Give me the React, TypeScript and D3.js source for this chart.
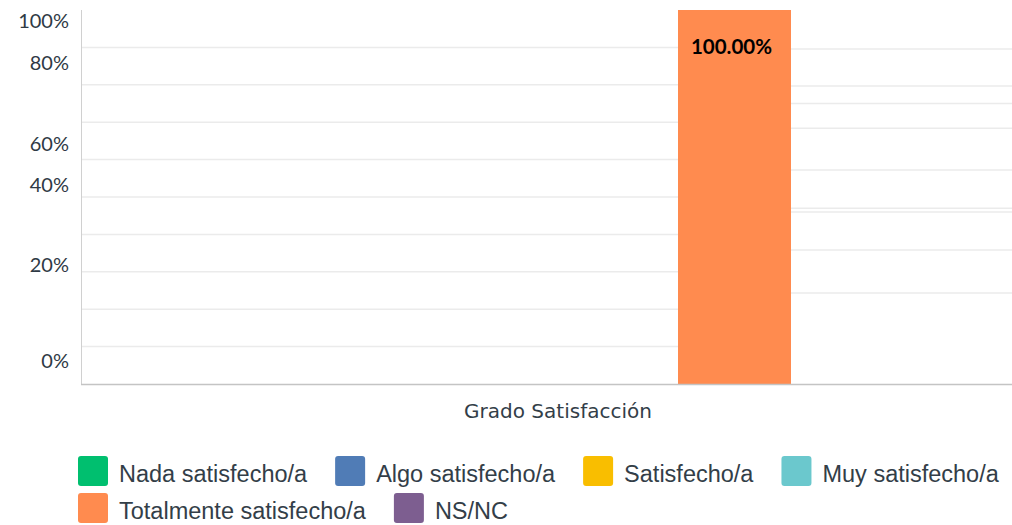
import React, { useEffect, useRef } from "react";
import * as d3 from "d3";

const categories = ["Grado Satisfacción"];
const seriesNames = [
  "Nada satisfecho/a",
  "Algo satisfecho/a",
  "Satisfecho/a",
  "Muy satisfecho/a",
  "Totalmente satisfecho/a",
  "NS/NC",
];
const seriesValues = [0, 0, 0, 0, 100, 0];
const seriesColors = ["#00BF6F", "#507CB6", "#F9BE00", "#6BC8CD", "#FF8B4F", "#7D5E90"];
const yTickLabels = ["0%", "20%", "40%", "60%", "80%", "100%"];
// where each tick label sits on the value axis (as rendered in the original)
const yTickLabelAt = [4.3, 29.9, 51.3, 62.3, 84, 95.2];
const leftGridValues = [10, 20, 30, 40, 50, 60, 70, 80, 90];
const rightGridValues = [89.6, 79.7, 75, 68.4, 57.2, 47, 46, 35.8, 24.3];

const W = 1012;
const H = 525;
const plot = { left: 81, right: 1012, top: 10, bottom: 384 };
const groupRange: [number, number] = [226, 904];

export default function App() {
  const ref = useRef<SVGSVGElement>(null);

  useEffect(() => {
    const svg = d3.select(ref.current!);
    svg.selectAll("*").remove();

    const y = d3.scaleLinear().domain([0, 100]).range([plot.bottom, plot.top]);
    const x1 = d3.scaleBand<string>().domain(seriesNames).range(groupRange).padding(0);

    const barIdx = seriesValues.findIndex((v) => v > 0);
    const barX0 = x1(seriesNames[barIdx])!;
    const barX1 = barX0 + x1.bandwidth();

    // grid
    const g = svg.append("g");
    g.selectAll("line.lg")
      .data(leftGridValues)
      .join("line")
      .attr("x1", plot.left + 1)
      .attr("x2", barX0)
      .attr("y1", (d) => y(d))
      .attr("y2", (d) => y(d))
      .attr("stroke", "#ebebeb")
      .attr("stroke-width", 1.5);
    g.selectAll("line.rg")
      .data(rightGridValues)
      .join("line")
      .attr("x1", barX1)
      .attr("x2", plot.right)
      .attr("y1", (d) => y(d))
      .attr("y2", (d) => y(d))
      .attr("stroke", "#ebebeb")
      .attr("stroke-width", 1.5);

    // bars
    svg
      .append("g")
      .selectAll("rect")
      .data(seriesNames.map((s, i) => ({ s, v: seriesValues[i], c: seriesColors[i] })))
      .join("rect")
      .attr("x", (d) => x1(d.s)!)
      .attr("width", x1.bandwidth())
      .attr("y", (d) => y(d.v))
      .attr("height", (d) => y(0) - y(d.v))
      .attr("fill", (d) => d.c);

    // bar labels
    svg
      .append("g")
      .selectAll("text")
      .data(seriesNames.map((s, i) => ({ s, v: seriesValues[i] })).filter((d) => d.v > 0))
      .join("text")
      .attr("x", (d) => x1(d.s)! + x1.bandwidth() / 2 - 3)
      .attr("y", (d) => y(d.v) + 44)
      .attr("text-anchor", "middle")
      .attr("font-family", "Lato")
      .attr("font-weight", 700)
      .attr("font-size", 20.5)
      .attr("fill", "#000")
      .text((d) => d.v.toFixed(2) + "%");

    // axes lines
    svg
      .append("line")
      .attr("x1", plot.left + 0.5)
      .attr("x2", plot.left + 0.5)
      .attr("y1", plot.top)
      .attr("y2", plot.bottom)
      .attr("stroke", "#d0d0d0")
      .attr("stroke-width", 1);
    svg
      .append("line")
      .attr("x1", plot.left)
      .attr("x2", plot.right)
      .attr("y1", plot.bottom + 0.5)
      .attr("y2", plot.bottom + 0.5)
      .attr("stroke", "#c4c4c4")
      .attr("stroke-width", 1.5);

    // y tick labels
    svg
      .append("g")
      .selectAll("text")
      .data(yTickLabels.map((t, i) => ({ t, at: yTickLabelAt[i] })))
      .join("text")
      .attr("x", 69)
      .attr("y", (d) => y(d.at))
      .attr("text-anchor", "end")
      .attr("font-family", "Lato")
      .attr("font-size", 20)
      .attr("fill", "#2f3a45")
      .text((d) => d.t);

    // x category label
    svg
      .append("text")
      .attr("x", 558)
      .attr("y", 418)
      .attr("text-anchor", "middle")
      .attr("font-family", "DejaVu Sans")
      .attr("font-size", 20)
      .attr("fill", "#333e48")
      .text(categories[0]);

    // legend
    const lg = svg.append("g");
    const sw = 30;
    const gapText = 11;
    const gapItem = 28;
    let lx = 78;
    let row = 0;
    const rowY = [456, 493];
    seriesNames.forEach((name, i) => {
      const item = lg.append("g");
      const t = item
        .append("text")
        .attr("font-family", "Liberation Sans, Arial, sans-serif")
        .attr("font-size", 23.5)
        .attr("fill", "#333e48")
        .text(name);
      const tw = (t.node() as SVGTextElement).getComputedTextLength();
      const itemW = sw + gapText + tw;
      if (lx + itemW > W - 5) {
        row += 1;
        lx = 78;
      }
      item
        .append("rect")
        .attr("x", lx)
        .attr("y", rowY[row])
        .attr("width", sw)
        .attr("height", sw)
        .attr("rx", 3)
        .attr("fill", seriesColors[i]);
      t.attr("x", lx + sw + gapText).attr("y", rowY[row] + 25.5);
      lx += itemW + gapItem;
    });
  }, []);

  return (
    <svg
      ref={ref}
      width={W}
      height={H}
      style={{ position: "absolute", left: 0, top: 0, background: "#fff" }}
    />
  );
}
